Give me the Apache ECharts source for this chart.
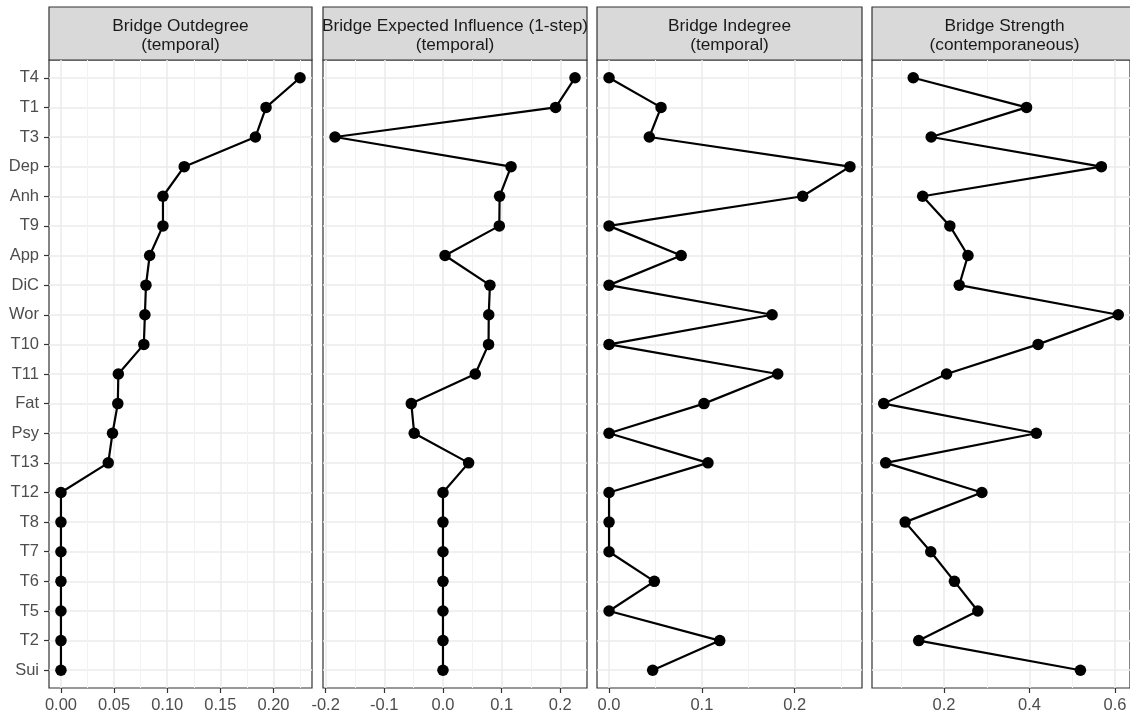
<!DOCTYPE html>
<html>
<head>
<meta charset="utf-8">
<title>Bridge centrality</title>
<script src="https://cdn.jsdelivr.net/npm/echarts@6/dist/echarts.min.js"></script>
<style>
	html, body { margin: 0; padding: 0; background: #fff; }
	#chart { width: 1130px; height: 716px; }
</style>
</head>
<body>
<div id="chart"></div>
<script>
var categories = ['T4', 'T1', 'T3', 'Dep', 'Anh', 'T9', 'App', 'DiC', 'Wor', 'T10', 'T11',
	'Fat', 'Psy', 'T13', 'T12', 'T8', 'T7', 'T6', 'T5', 'T2', 'Sui'];

var panelTitles = [
	'Bridge Outdegree\n(temporal)',
	'Bridge Expected Influence (1-step)\n(temporal)',
	'Bridge Indegree\n(temporal)',
	'Bridge Strength\n(contemporaneous)'
];

var outdegree = [0.225, 0.193, 0.183, 0.116, 0.096, 0.096, 0.0835, 0.080, 0.079, 0.078, 0.054,
	0.0535, 0.0485, 0.0445, 0, 0, 0, 0, 0, 0, 0];
var expectedInfluence = [0.225, 0.192, -0.184, 0.116, 0.0965, 0.096, 0.0035, 0.080, 0.078, 0.0777, 0.055,
	-0.054, -0.049, 0.0437, 0, 0, 0, 0, 0, 0, 0];
var indegree = [0, 0.056, 0.0434, 0.2596, 0.2086, 0, 0.0777, 0, 0.1757, 0, 0.1818,
	0.1023, 0, 0.1066, 0, 0, 0, 0.0488, 0, 0.1193, 0.047];
var strength = [0.128, 0.393, 0.170, 0.568, 0.150, 0.2136, 0.256, 0.2356, 0.6075, 0.42, 0.206,
	0.059, 0.4159, 0.0636, 0.2886, 0.109, 0.169, 0.2243, 0.279, 0.1409, 0.519];

// x tick labels per panel
var xTicks1 = [0, 0.05, 0.10, 0.15, 0.20];
var xTicks2 = [-0.2, -0.1, 0, 0.1, 0.2];
var xTicks3 = [0, 0.1, 0.2];
var xTicks4 = [0.2, 0.4, 0.6];

var FONT = '"Liberation Sans", Arial, sans-serif';

var panels = [
	{ values: outdegree, ticks: xTicks1, digits: 2, split: 5, left: 49, width: 263 },
	{ values: expectedInfluence, ticks: xTicks2, digits: 1, split: 4, left: 323, width: 264 },
	{ values: indegree, ticks: xTicks3, digits: 1, split: 3, left: 597, width: 265 },
	{ values: strength, ticks: xTicks4, digits: 1, split: 3, left: 872, width: 265 }
];

var TOP = 60, HEIGHT = 628;

// ggplot style 5% expansion
function expand(arr) {
	var lo = Math.min.apply(null, arr), hi = Math.max.apply(null, arr);
	var r = hi - lo;
	return [lo - r * 0.05, hi + r * 0.05];
}

var yIdx = [];
for (var i = 0; i < categories.length; i++) yIdx.push(i);

var grids = [], xAxes = [], yAxes = [], series = [], graphics = [];

panels.forEach(function (p, k) {
	var lim = expand(p.values);
	grids.push({
		left: p.left, top: TOP, width: p.width, height: HEIGHT,
		show: true, backgroundColor: '#fff', borderColor: '#333333', borderWidth: 1.2,
		containLabel: false
	});
	xAxes.push({
		type: 'value', gridIndex: k, position: 'bottom', min: lim[0], max: lim[1], splitNumber: p.split,
		axisLine: { show: false, onZero: false },
		axisTick: { show: true, length: 5, customValues: p.ticks, lineStyle: { color: '#333333', width: 1.2 } },
		axisLabel: {
			customValues: p.ticks, margin: 9, color: '#4D4D4D', fontSize: 16.5, fontFamily: FONT,
			formatter: (function (d) { return function (v) { return v.toFixed(d); }; })(p.digits)
		},
		splitLine: { show: true, lineStyle: { color: '#EBEBEB', width: 1.5 } },
		minorTick: { show: false, splitNumber: 2 },
		minorSplitLine: { show: true, lineStyle: { color: '#F2F2F2', width: 1 } }
	});
	yAxes.push({
		type: 'value', gridIndex: k, position: 'left', inverse: true, min: -0.6, max: categories.length - 0.4,
		axisLine: { show: false, onZero: false },
		axisTick: { show: k === 0, length: 5, customValues: yIdx, lineStyle: { color: '#333333', width: 1.2 } },
		axisLabel: {
			show: k === 0, customValues: yIdx, margin: 10, color: '#4D4D4D', fontSize: 16.5, fontFamily: FONT,
			formatter: function (v) { return categories[Math.round(v)]; }
		},
		splitLine: { show: true, lineStyle: { color: '#EBEBEB', width: 1.5 } }
	});
	series.push({
		type: 'line', xAxisIndex: k, yAxisIndex: k,
		data: p.values.map(function (v, j) { return [v, j]; }),
		symbol: 'circle', symbolSize: 11.5, clip: false,
		lineStyle: { color: '#000', width: 2.2 },
		itemStyle: { color: '#000' },
		animation: false
	});
	// strip header
	graphics.push({
		type: 'rect', shape: { x: p.left, y: 7, width: p.width, height: TOP - 7 },
		style: { fill: '#D9D9D9', stroke: '#333333', lineWidth: 1.2 }
	});
	graphics.push({
		type: 'text', x: p.left + p.width / 2, y: 35.5,
		style: {
			text: panelTitles[k], fill: '#1A1A1A', font: '17.3px ' + FONT,
			align: 'center', verticalAlign: 'middle', lineHeight: 19.5
		}
	});
});

var chart = echarts.init(document.getElementById('chart'), null, { renderer: 'canvas' });
chart.setOption({
	animation: false,
	grid: grids,
	xAxis: xAxes,
	yAxis: yAxes,
	series: series,
	graphic: graphics
});
</script>
</body>
</html>
